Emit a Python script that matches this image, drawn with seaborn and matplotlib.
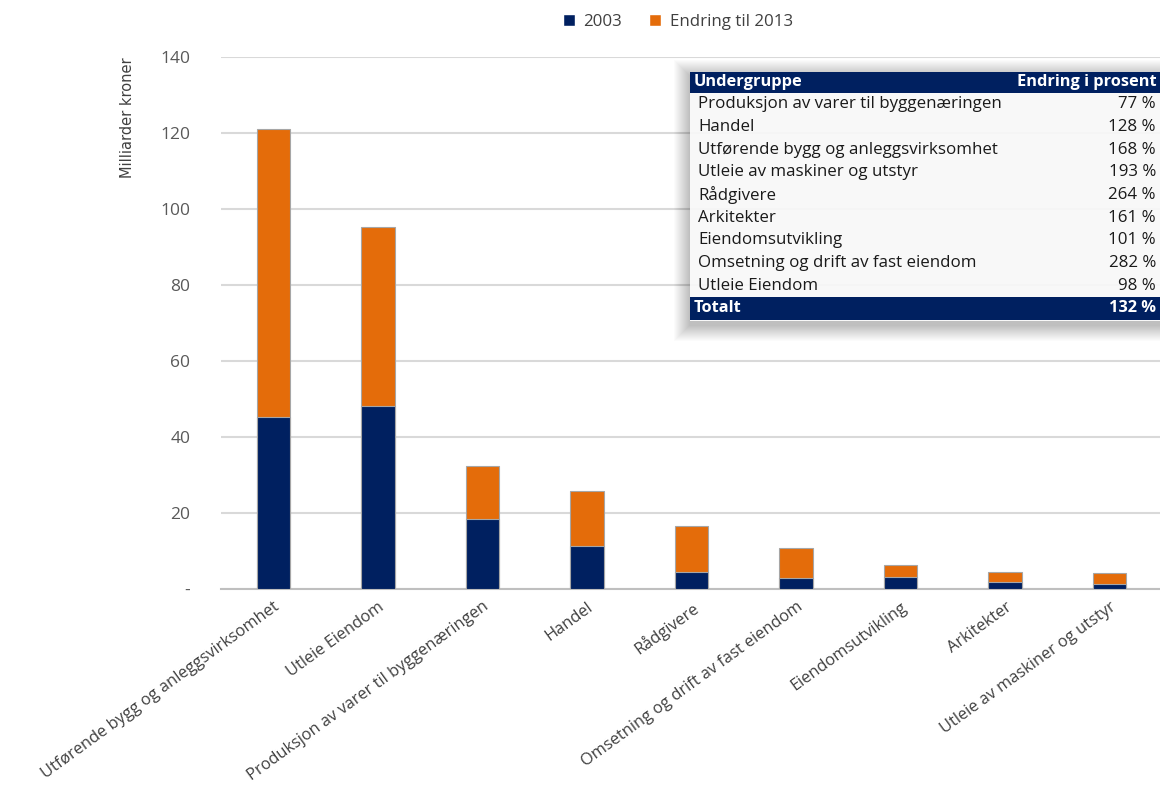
import matplotlib
matplotlib.use("Agg")
import matplotlib.pyplot as plt
from matplotlib.patches import Rectangle, Patch
import seaborn as sns
import pandas as pd

# Categories shown on the x axis, in bar order
categories = [
    "Utførende bygg og anleggsvirksomhet",
    "Utleie Eiendom",
    "Produksjon av varer til byggenæringen",
    "Handel",
    "Rådgivere",
    "Omsetning og drift av fast eiendom",
    "Eiendomsutvikling",
    "Arkitekter",
    "Utleie av maskiner og utstyr",
]
# Turnover 2003 and change up to 2013 (billion NOK)
value_2003 = [45.3, 48.1, 18.3, 11.4, 4.6, 2.85, 3.2, 1.75, 1.4]
change_2013 = [75.8, 47.1, 14.1, 14.5, 12.1, 8.0, 3.2, 2.8, 2.75]

# Side table: subgroup and percent change
table_groups = [
    "Produksjon av varer til byggenæringen",
    "Handel",
    "Utførende bygg og anleggsvirksomhet",
    "Utleie av maskiner og utstyr",
    "Rådgivere",
    "Arkitekter",
    "Eiendomsutvikling",
    "Omsetning og drift av fast eiendom",
    "Utleie Eiendom",
]
table_pct = ["77 %", "128 %", "168 %", "193 %", "264 %", "161 %", "101 %", "282 %", "98 %"]
total_pct = "132 %"

y_ticks = [0, 20, 40, 60, 80, 100, 120, 140]
y_ticklabels = ["-", "20", "40", "60", "80", "100", "120", "140"]

NAVY = "#002060"
ORANGE = "#E46C0A"
GRID = "#d9d9d9"
TEXT = "#595959"

sns.set_theme(style="white")
plt.rcParams["font.family"] = ["Open Sans", "DejaVu Sans"]

W, H = 1160, 792
fig = plt.figure(figsize=(W / 100, H / 100), dpi=100)
ax = fig.add_axes([221 / W, 1 - 589 / H, 941 / W, 532 / H])

df = pd.DataFrame({
    "kategori": categories,
    "base": value_2003,
    "total": [b + c for b, c in zip(value_2003, change_2013)],
})

sns.barplot(data=df, x="kategori", y="total", color=ORANGE, width=0.32,
            edgecolor="#a6a6a6", linewidth=0.8, saturation=1, ax=ax, zorder=2)
sns.barplot(data=df, x="kategori", y="base", color=NAVY, width=0.32,
            edgecolor="#a6a6a6", linewidth=0.8, saturation=1, ax=ax, zorder=3)

ax.set_ylim(0, 140)
ax.set_xlim(-0.5, len(categories) - 0.5)
ax.set_yticks(y_ticks)
ax.set_yticklabels(y_ticklabels, fontsize=12.5, color=TEXT)
ax.tick_params(axis="y", length=0, pad=22)
ax.tick_params(axis="x", length=0, pad=7)
ax.yaxis.grid(True, color=GRID, linewidth=1.5, zorder=0)
ax.set_axisbelow(True)
for s in ["top", "right", "left"]:
    ax.spines[s].set_visible(False)
ax.spines["bottom"].set_color("#bfbfbf")
ax.spines["bottom"].set_linewidth(1.5)

ax.set_xlabel("")
ax.set_ylabel("")
ax.set_xticks(range(len(categories)))
ax.set_xticklabels(categories, rotation=36, ha="right", rotation_mode="anchor",
                   fontsize=11.8, color="#404040")

fig.text(128 / W, 1 - 118 / H, "Milliarder kroner", rotation=90,
         ha="center", va="center", fontsize=10.5, color="#404040",
         family=["Liberation Sans Narrow", "DejaVu Sans"])

# Legend
handles = [Patch(facecolor=NAVY, label="2003"),
           Patch(facecolor=ORANGE, label="Endring til 2013")]
fig.legend(handles=handles, loc="center", bbox_to_anchor=(678 / W, 1 - 22 / H),
           ncol=2, frameon=False, fontsize=12.2, handlelength=0.7,
           handleheight=0.7, handletextpad=0.5, columnspacing=1.6,
           labelcolor="#404040")


# Table with soft drop shadow, laid out in pixel units
def fx(px):
    return px / W


def fy(py):
    return 1 - py / H


tx0, tx1 = 690, 1162
ty0, ty1 = 72, 321
for i in range(16, 0, -1):
    fig.patches.append(Rectangle((fx(tx0 - i), fy(ty1 + i + 4)),
                                 fx(tx1 - tx0 + 2 * i), (ty1 - ty0 + 2 * i) / H,
                                 transform=fig.transFigure, facecolor="#000000",
                                 alpha=0.014, edgecolor="none", zorder=5))
fig.patches.append(Rectangle((fx(tx0), fy(ty1)), fx(tx1 - tx0), (ty1 - ty0) / H,
                             transform=fig.transFigure, facecolor="white",
                             alpha=0.9, edgecolor="none", zorder=6))

header_top, header_bot = 72, 93
row_h = (297 - header_bot) / len(table_groups)
fig.patches.append(Rectangle((fx(tx0), fy(header_bot)), fx(tx1 - tx0),
                             (header_bot - header_top) / H,
                             transform=fig.transFigure, facecolor=NAVY,
                             edgecolor="none", zorder=7))
fig.patches.append(Rectangle((fx(tx0), fy(320)), fx(tx1 - tx0), (320 - 297) / H,
                             transform=fig.transFigure, facecolor=NAVY,
                             edgecolor="none", zorder=7))

FS = 12.2
fig.text(fx(694), fy((header_top + header_bot) / 2), "Undergruppe", color="white",
         fontsize=FS - 0.4, fontweight="bold", ha="left", va="center", zorder=8)
fig.text(fx(1017), fy((header_top + header_bot) / 2), "Endring i prosent",
         color="white", fontsize=FS - 0.4, fontweight="bold", ha="left", va="center",
         zorder=8)
for i, (g, p) in enumerate(zip(table_groups, table_pct)):
    yc = header_bot + row_h * (i + 0.5)
    fig.text(fx(698), fy(yc), g, color="#1a1a1a", fontsize=FS,
             ha="left", va="center", zorder=8)
    fig.text(fx(1156), fy(yc), p, color="#1a1a1a", fontsize=FS,
             ha="right", va="center", zorder=8)
fig.text(fx(694), fy(308.5), "Totalt", color="white", fontsize=FS - 0.4,
         fontweight="bold", ha="left", va="center", zorder=8)
fig.text(fx(1156), fy(308.5), total_pct, color="white", fontsize=FS - 0.4,
         fontweight="bold", ha="right", va="center", zorder=8)

fig.savefig("out.png", dpi=100, facecolor="white")
